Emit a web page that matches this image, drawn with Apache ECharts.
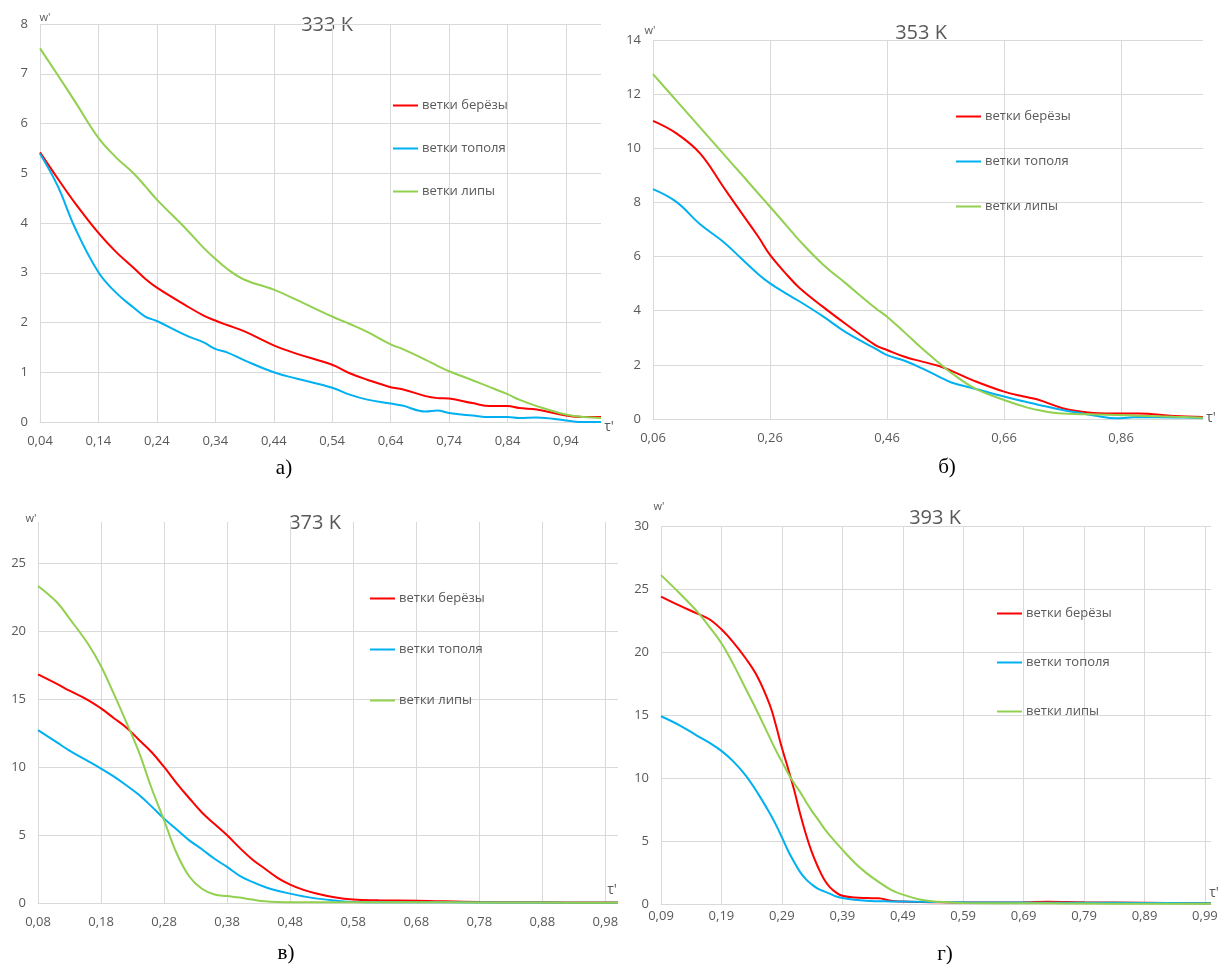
<!DOCTYPE html>
<html>
<head>
<meta charset="UTF-8" />
<script src="https://cdn.jsdelivr.net/npm/echarts@6/dist/echarts.min.js"></script>
<style>
  html, body { margin: 0; padding: 0; background: #fff; }
  #main { width: 1222px; height: 964px; }
</style>
</head>
<body>
<div id="main"></div>
<script>
// series names
const names = ['ветки берёзы', 'ветки тополя', 'ветки липы'];
const colors = ['#ff0000', '#00b0f0', '#92d050'];

// а) 333 K
const tauA = [0.04, 0.07, 0.10, 0.14, 0.17, 0.20, 0.22, 0.24, 0.29, 0.32, 0.34, 0.36, 0.39, 0.44, 0.48, 0.54, 0.57, 0.60, 0.64, 0.66, 0.70, 0.72, 0.74, 0.78, 0.81, 0.84, 0.86, 0.89, 0.94, 0.97, 1.00];
const birchA = [5.42, 4.9, 4.4, 3.8, 3.42, 3.1, 2.88, 2.70, 2.34, 2.14, 2.04, 1.95, 1.82, 1.54, 1.37, 1.15, 0.98, 0.85, 0.70, 0.66, 0.52, 0.48, 0.47, 0.38, 0.32, 0.32, 0.28, 0.25, 0.13, 0.10, 0.10];
const poplarA = [5.39, 4.75, 3.9, 3.01, 2.6, 2.30, 2.12, 2.03, 1.74, 1.6, 1.47, 1.40, 1.24, 1.00, 0.87, 0.69, 0.55, 0.45, 0.37, 0.33, 0.21, 0.23, 0.18, 0.13, 0.10, 0.10, 0.08, 0.09, 0.03, 0.0, 0.0];
const lindenA = [7.51, 6.98, 6.44, 5.71, 5.32, 5.0, 4.74, 4.47, 3.88, 3.5, 3.28, 3.08, 2.86, 2.66, 2.45, 2.12, 1.97, 1.81, 1.56, 1.47, 1.25, 1.13, 1.02, 0.84, 0.70, 0.56, 0.45, 0.32, 0.15, 0.10, 0.08];

// б) 353 K
const tauB = [0.06, 0.10, 0.14, 0.18, 0.21, 0.24, 0.26, 0.29, 0.31, 0.35, 0.39, 0.44, 0.46, 0.49, 0.52, 0.55, 0.57, 0.61, 0.66, 0.70, 0.72, 0.76, 0.79, 0.82, 0.85, 0.89, 0.95, 1.00];
const birchB = [11.01, 10.55, 9.82, 8.58, 7.65, 6.73, 6.06, 5.3, 4.85, 4.15, 3.5, 2.73, 2.55, 2.3, 2.12, 1.95, 1.78, 1.4, 1.01, 0.8, 0.7, 0.4, 0.28, 0.21, 0.2, 0.2, 0.11, 0.07];
const poplarB = [8.49, 8.02, 7.2, 6.55, 5.95, 5.35, 5.01, 4.6, 4.35, 3.8, 3.2, 2.6, 2.36, 2.15, 1.87, 1.55, 1.35, 1.12, 0.83, 0.62, 0.52, 0.33, 0.22, 0.11, 0.03, 0.07, 0.06, 0.04];
const lindenB = [12.74, 11.76, 10.78, 9.8, 9.07, 8.33, 7.84, 7.1, 6.6, 5.72, 5.0, 4.1, 3.78, 3.2, 2.6, 2.05, 1.7, 1.13, 0.70, 0.42, 0.32, 0.2, 0.18, 0.17, 0.15, 0.12, 0.08, 0.05];

// в) 373 K
const tauC = [0.08, 0.11, 0.13, 0.16, 0.18, 0.20, 0.22, 0.24, 0.26, 0.28, 0.30, 0.32, 0.34, 0.36, 0.38, 0.40, 0.42, 0.44, 0.46, 0.48, 0.50, 0.52, 0.55, 0.58, 0.62, 0.68, 0.78, 0.88, 1.00];
const birchC = [16.8, 16.1, 15.6, 14.9, 14.3, 13.6, 12.9, 12.0, 11.1, 10.0, 8.8, 7.7, 6.65, 5.8, 4.98, 4.05, 3.2, 2.52, 1.85, 1.35, 0.98, 0.72, 0.42, 0.25, 0.2, 0.17, 0.07, 0.05, 0.03];
const poplarC = [12.7, 11.8, 11.2, 10.4, 9.88, 9.3, 8.65, 7.95, 7.1, 6.2, 5.4, 4.6, 3.95, 3.25, 2.65, 2.0, 1.55, 1.18, 0.9, 0.69, 0.5, 0.34, 0.18, 0.07, 0.05, 0.05, 0.04, 0.03, 0.02];
const lindenC = [23.3, 22.1, 20.9, 19.0, 17.4, 15.4, 13.3, 11.1, 8.45, 6.08, 3.65, 1.95, 1.05, 0.63, 0.51, 0.4, 0.25, 0.12, 0.07, 0.06, 0.05, 0.05, 0.05, 0.05, 0.05, 0.05, 0.04, 0.03, 0.02];

// г) 393 K
const tauD = [0.09, 0.12, 0.15, 0.17, 0.19, 0.21, 0.23, 0.25, 0.27, 0.28, 0.29, 0.30, 0.31, 0.32, 0.33, 0.34, 0.35, 0.36, 0.37, 0.38, 0.39, 0.41, 0.43, 0.45, 0.47, 0.49, 0.52, 0.55, 0.59, 0.69, 0.73, 0.79, 0.89, 1.00];
const birchD = [24.4, 23.7, 23.05, 22.6, 21.8, 20.75, 19.5, 18.0, 15.8, 14.2, 12.4, 10.8, 9.1, 7.2, 5.5, 4.05, 2.9, 1.95, 1.3, 0.9, 0.66, 0.52, 0.47, 0.45, 0.26, 0.19, 0.15, 0.13, 0.12, 0.13, 0.18, 0.13, 0.1, 0.05];
const poplarD = [14.9, 14.2, 13.35, 12.8, 12.15, 11.3, 10.2, 8.8, 7.2, 6.3, 5.3, 4.25, 3.35, 2.55, 1.95, 1.53, 1.2, 1.0, 0.8, 0.6, 0.48, 0.33, 0.25, 0.22, 0.2, 0.19, 0.17, 0.15, 0.13, 0.11, 0.1, 0.1, 0.08, 0.05];
const lindenD = [26.1, 24.7, 23.2, 22.0, 20.7, 19.0, 17.1, 15.2, 13.2, 12.2, 11.3, 10.4, 9.6, 8.9, 8.1, 7.35, 6.7, 6.0, 5.4, 4.85, 4.31, 3.3, 2.45, 1.75, 1.15, 0.74, 0.34, 0.17, 0.08, 0.06, 0.05, 0.04, 0.02, 0.01];

const FONT = "'Open Sans', sans-serif";
const GRID = '#d9d9d9';
const TXT = '#595959';

// layout of the four panels
const panels = [
  { tau: tauA, vals: [birchA, poplarA, lindenA], x0: 0.04, step: 0.1, ymax: 8, ystep: 1,
    grid: { left: 40, top: 24, width: 561, height: 398 }, labelMargin: 13,
    legend: { left: 393, top: 99, itemGap: 30 }, title: '333 K', tpos: [327, 25],
    w: [45, 18], t: [609, 427], cap: 'а)', cpos: [284, 468] },
  { tau: tauB, vals: [birchB, poplarB, lindenB], x0: 0.06, step: 0.2, ymax: 14, ystep: 2,
    grid: { left: 653, top: 40, width: 550, height: 379 }, labelMargin: 13,
    legend: { left: 956, top: 110, itemGap: 32 }, title: '353 K', tpos: [921, 33],
    w: [650, 31], t: [1211, 418], cap: 'б)', cpos: [947, 467] },
  { tau: tauC, vals: [birchC, poplarC, lindenC], x0: 0.08, step: 0.1, ymax: 28, ystep: 5,
    grid: { left: 38, top: 522, width: 580, height: 381 }, labelMargin: 13,
    legend: { left: 370, top: 592, itemGap: 38 }, title: '373 K', tpos: [315, 523],
    w: [31, 519], t: [612, 890], cap: 'в)', cpos: [286, 953] },
  { tau: tauD, vals: [birchD, poplarD, lindenD], x0: 0.09, step: 0.1, ymax: 30, ystep: 5,
    grid: { left: 661, top: 526, width: 550, height: 378 }, labelMargin: 6,
    legend: { left: 997, top: 607, itemGap: 36 }, title: '393 K', tpos: [935, 518],
    w: [659, 507], t: [1214, 893], cap: 'г)', cpos: [945, 954] }
];

const grids = [], xAxes = [], yAxes = [], series = [], legends = [], graphics = [];

panels.forEach((p, gi) => {
  grids.push(Object.assign({ containLabel: false }, p.grid));
  xAxes.push({
    gridIndex: gi, type: 'value', min: 0, max: +(1 - p.x0).toFixed(2), interval: p.step,
    axisLine: { show: true, lineStyle: { color: GRID, width: 1 } },
    axisTick: { show: false },
    axisLabel: {
      color: TXT, fontSize: 13, fontFamily: FONT, margin: p.labelMargin, showMaxLabel: false,
      formatter: v => (v + p.x0).toFixed(2).replace('.', ',')
    },
    splitLine: { show: true, showMaxLine: false, lineStyle: { color: GRID } }
  });
  const full = p.ymax % p.ystep === 0;
  yAxes.push({
    gridIndex: gi, type: 'value', min: 0, max: p.ymax, interval: p.ystep,
    axisLine: { show: false }, axisTick: { show: false },
    axisLabel: { color: TXT, fontSize: 13, fontFamily: FONT, margin: 12, showMaxLabel: full },
    splitLine: { show: true, showMaxLine: full, lineStyle: { color: GRID } }
  });
  names.forEach((n, si) => {
    series.push({
      name: n, type: 'line', xAxisIndex: gi, yAxisIndex: gi,
      data: p.tau.map((t, i) => [+(t - p.x0).toFixed(4), p.vals[si][i]]),
      smooth: 0.4, showSymbol: false, symbol: 'none',
      lineStyle: { color: colors[si], width: 2 }, itemStyle: { color: colors[si] }
    });
  });
  legends.push({
    orient: 'vertical', left: p.legend.left, top: p.legend.top, itemGap: p.legend.itemGap,
    padding: 0, icon: 'rect', itemWidth: 25, itemHeight: 2, selectedMode: false, data: names,
    textStyle: { color: TXT, fontSize: 13, fontFamily: FONT, padding: [0, 0, 0, -1] }
  });
  graphics.push(
    { type: 'text', x: p.tpos[0], y: p.tpos[1], style: { text: p.title, font: '20px ' + FONT, fill: TXT, align: 'center', verticalAlign: 'middle' } },
    { type: 'text', x: p.w[0], y: p.w[1], style: { text: "w'", font: '11px ' + FONT, fill: TXT, align: 'center', verticalAlign: 'middle' } },
    { type: 'text', x: p.t[0], y: p.t[1], style: { text: "τ'", font: '14px ' + FONT, fill: TXT, align: 'center', verticalAlign: 'middle' } },
    { type: 'text', x: p.cpos[0], y: p.cpos[1], style: { text: p.cap, font: '21px "Liberation Serif", serif', fill: '#000', align: 'center', verticalAlign: 'middle' } }
  );
});

const chart = echarts.init(document.getElementById('main'), null, { renderer: 'canvas' });
chart.setOption({
  animation: false,
  backgroundColor: '#fff',
  grid: grids,
  xAxis: xAxes,
  yAxis: yAxes,
  legend: legends,
  series: series,
  graphic: graphics
});
</script>
</body>
</html>
